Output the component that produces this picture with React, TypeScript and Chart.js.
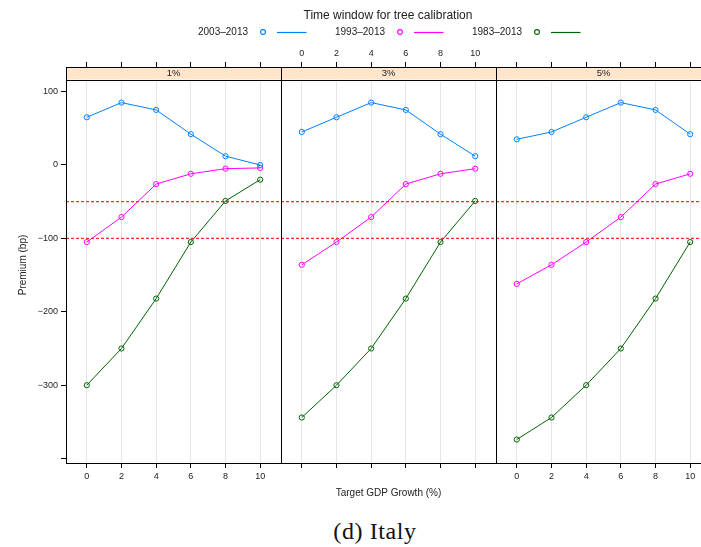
import React, { useEffect, useRef } from 'react';
import { Chart, registerables } from 'chart.js';

Chart.register(...registerables);

// ---------------- data ----------------
const xValues = [0, 2, 4, 6, 8, 10];
const panelLabels = ['1%', '3%', '5%'];
const seriesNames = ['2003–2013', '1993–2013', '1983–2013'];
const seriesColors = ['#0080ff', '#ff00ff', '#006400'];

const s2003_p1 = [65, 85, 75, 42, 12, 0];
const s1993_p1 = [-105, -71, -26, -12, -5, -4];
const s1983_p1 = [-300, -250, -182, -105, -49, -20];

const s2003_p3 = [45, 65, 85, 75, 42, 12];
const s1993_p3 = [-136, -105, -71, -26, -12, -5];
const s1983_p3 = [-344, -300, -250, -182, -105, -49];

const s2003_p5 = [35, 45, 65, 85, 75, 42];
const s1993_p5 = [-162, -136, -105, -71, -26, -12];
const s1983_p5 = [-374, -344, -300, -250, -182, -105];

const refLines = [-50, -100];

const xTicks = [0, 2, 4, 6, 8, 10];
const xTickLabels = ['0', '2', '4', '6', '8', '10'];
const yTicks = [100, 0, -100, -200, -300, -400];
const yTickLabels = ['100', '0', '\u2212100', '\u2212200', '\u2212300', ''];

const panelSeries = [
  [s2003_p1, s1993_p1, s1983_p1],
  [s2003_p3, s1993_p3, s1983_p3],
  [s2003_p5, s1993_p5, s1983_p5],
];

// ---------------- layout / style ----------------
const FONT = "'Liberation Sans', Arial, Helvetica, sans-serif";
const TEXT_COLOR = '#222';
const CANVAS_W = 301;
const CANVAS_H = 505;
const PANEL_W = 215;
const PANEL_LEFTS = [66, 281, 496];
const PLOT_TOP = 67;
const PLOT_BOTTOM = 463;
const STRIP_H = 12.5;
const Y_AXIS_W = 50;
const TOP_AXIS_H = 20;
const BOTTOM_AXIS_H = 36;
const X_MIN = -1.2;
const X_MAX = 11.2;
const Y_MIN = -406;
const Y_MAX = 133.5;

const LEG_X0 = 198;
const LEG_STEP = 137;

function makeChart(canvas: HTMLCanvasElement, i: number) {
  const series = panelSeries[i];
  const datasets: any[] = [
    ...refLines.map((v) => ({
      label: 'ref ' + v,
      data: [
        { x: X_MIN, y: v },
        { x: X_MAX, y: v },
      ],
      showLine: true,
      borderColor: 'rgba(255,20,20,0.9)',
      borderDash: [3, 2],
      borderWidth: 1.2,
      pointRadius: 0,
      order: 0,
    })),
    ...series.map((vals, k) => ({
      label: seriesNames[k],
      data: xValues.map((x, j) => ({ x, y: vals[j] })),
      showLine: true,
      borderColor: seriesColors[k],
      backgroundColor: 'transparent',
      pointBackgroundColor: 'transparent',
      pointBorderColor: seriesColors[k],
      pointRadius: 2.6,
      pointBorderWidth: 1,
      borderWidth: 1,
      tension: 0,
      order: 1,
    })),
  ];

  const panelPlugin = {
    id: 'panelStrip' + i,
    beforeDatasetsDraw(chart: any) {
      const { ctx, chartArea: a } = chart;
      ctx.save();
      ctx.fillStyle = '#ffe5cc';
      ctx.fillRect(a.left, a.top, a.right - a.left, STRIP_H);
      ctx.strokeStyle = '#000';
      ctx.lineWidth = 1;
      ctx.beginPath();
      const yb = Math.round(a.top + STRIP_H) + 0.5;
      ctx.moveTo(a.left, yb);
      ctx.lineTo(a.right, yb);
      ctx.stroke();
      ctx.fillStyle = TEXT_COLOR;
      ctx.font = `9.5px ${FONT}`;
      ctx.textAlign = 'center';
      ctx.textBaseline = 'middle';
      ctx.fillText(panelLabels[i], (a.left + a.right) / 2, a.top + STRIP_H / 2 + 0.5);
      ctx.restore();
    },
    afterDraw(chart: any) {
      const { ctx, chartArea: a } = chart;
      ctx.save();
      ctx.strokeStyle = '#000';
      ctx.lineWidth = 1;
      ctx.strokeRect(
        Math.round(a.left) + 0.5,
        Math.round(a.top) + 0.5,
        Math.round(a.right - a.left),
        Math.round(a.bottom - a.top)
      );
      ctx.restore();
    },
  };

  const tickFont = { family: FONT, size: 9 };

  return new Chart(canvas, {
    type: 'scatter',
    data: { datasets },
    plugins: [panelPlugin],
    options: {
      animation: false,
      responsive: false,
      events: [],
      layout: {
        padding: {
          left: i === 0 ? 66 - Y_AXIS_W : 66,
          right: CANVAS_W - 66 - PANEL_W,
          top: PLOT_TOP - TOP_AXIS_H,
          bottom: CANVAS_H - PLOT_BOTTOM - BOTTOM_AXIS_H,
        },
      },
      plugins: {
        legend: { display: false },
        tooltip: { enabled: false },
      },
      scales: {
        x: {
          type: 'linear',
          position: 'bottom',
          min: X_MIN,
          max: X_MAX,
          afterBuildTicks: (s: any) => {
            s.ticks = xTicks.map((v) => ({ value: v }));
          },
          afterFit: (s: any) => {
            s.height = BOTTOM_AXIS_H;
          },
          grid: {
            color: '#e6e6e6',
            lineWidth: 1,
            drawTicks: true,
            tickLength: 5,
            tickColor: '#000',
            tickWidth: 1,
          },
          border: { display: false },
          ticks: {
            display: i !== 1,
            autoSkip: false,
            maxRotation: 0,
            padding: 3,
            color: TEXT_COLOR,
            font: tickFont,
            callback: (v: any) => xTickLabels[xTicks.indexOf(Number(v))] ?? '',
          },
          title: {
            display: i === 1,
            text: 'Target GDP Growth (%)',
            color: TEXT_COLOR,
            font: { family: FONT, size: 10 },
            padding: { top: 0, bottom: 0 },
          },
        },
        xt: {
          type: 'linear',
          position: 'top',
          min: X_MIN,
          max: X_MAX,
          afterBuildTicks: (s: any) => {
            s.ticks = xTicks.map((v) => ({ value: v }));
          },
          afterFit: (s: any) => {
            s.height = TOP_AXIS_H;
          },
          grid: {
            drawOnChartArea: false,
            drawTicks: true,
            tickLength: 5,
            tickColor: '#000',
            tickWidth: 1,
          },
          border: { display: false },
          ticks: {
            display: i === 1,
            autoSkip: false,
            maxRotation: 0,
            padding: 3,
            color: TEXT_COLOR,
            font: tickFont,
            callback: (v: any) => xTickLabels[xTicks.indexOf(Number(v))] ?? '',
          },
        },
        y: {
          type: 'linear',
          position: 'left',
          display: i === 0,
          min: Y_MIN,
          max: Y_MAX,
          afterBuildTicks: (s: any) => {
            s.ticks = yTicks.map((v) => ({ value: v }));
          },
          afterFit: (s: any) => {
            s.width = i === 0 ? Y_AXIS_W : 0;
          },
          grid: {
            drawOnChartArea: false,
            drawTicks: true,
            tickLength: 5,
            tickColor: '#000',
            tickWidth: 1,
          },
          border: { display: false },
          ticks: {
            autoSkip: false,
            padding: 3,
            color: TEXT_COLOR,
            font: tickFont,
            callback: (v: any) => yTickLabels[yTicks.indexOf(Number(v))] ?? '',
          },
          title: {
            display: true,
            text: 'Premium (bp)',
            color: TEXT_COLOR,
            font: { family: FONT, size: 10 },
            padding: { top: 1, bottom: 0 },
          },
        },
      },
    } as any,
  });
}

export default function App() {
  const r0 = useRef<HTMLCanvasElement>(null);
  const r1 = useRef<HTMLCanvasElement>(null);
  const r2 = useRef<HTMLCanvasElement>(null);
  const refs = [r0, r1, r2];

  useEffect(() => {
    const charts = refs.map((r, i) => makeChart(r.current as HTMLCanvasElement, i));
    return () => charts.forEach((c) => c.destroy());
  }, []);

  return (
    <div
      style={{
        position: 'absolute',
        left: 0,
        top: 0,
        width: 701,
        height: 547,
        overflow: 'hidden',
        background: '#fff',
      }}
    >
      {refs.map((r, i) => (
        <canvas
          key={i}
          ref={r}
          width={CANVAS_W}
          height={CANVAS_H}
          style={{ position: 'absolute', left: PANEL_LEFTS[i] - 66, top: 0 }}
        />
      ))}
      <div
        style={{
          position: 'absolute',
          left: 0,
          width: 776,
          top: 8,
          textAlign: 'center',
          font: `12px ${FONT}`,
          lineHeight: '14px',
          color: TEXT_COLOR,
          whiteSpace: 'nowrap',
        }}
      >
        Time window for tree calibration
      </div>
      <svg
        width={701}
        height={50}
        style={{ position: 'absolute', left: 0, top: 0, pointerEvents: 'none' }}
      >
        {seriesNames.map((name, k) => {
          const x0 = LEG_X0 + k * LEG_STEP;
          return (
            <g key={name}>
              <circle
                cx={x0 + 65}
                cy={32}
                r={2.4}
                fill="none"
                stroke={seriesColors[k]}
                strokeWidth={1.1}
              />
              <line
                x1={x0 + 79}
                x2={x0 + 108.5}
                y1={32.5}
                y2={32.5}
                stroke={seriesColors[k]}
                strokeWidth={1.2}
              />
            </g>
          );
        })}
      </svg>
      {seriesNames.map((name, k) => (
        <div
          key={name}
          style={{
            position: 'absolute',
            left: LEG_X0 + k * LEG_STEP,
            top: 26,
            font: `10px ${FONT}`,
            lineHeight: '12px',
            color: TEXT_COLOR,
            whiteSpace: 'nowrap',
          }}
        >
          {name}
        </div>
      ))}
      <div
        style={{
          position: 'absolute',
          left: 0,
          width: 750,
          top: 517,
          textAlign: 'center',
          font: `24px 'Liberation Serif', 'Times New Roman', serif`,
          lineHeight: '28px',
          letterSpacing: '0.6px',
          color: '#111',
          whiteSpace: 'nowrap',
        }}
      >
        (d) Italy
      </div>
    </div>
  );
}
